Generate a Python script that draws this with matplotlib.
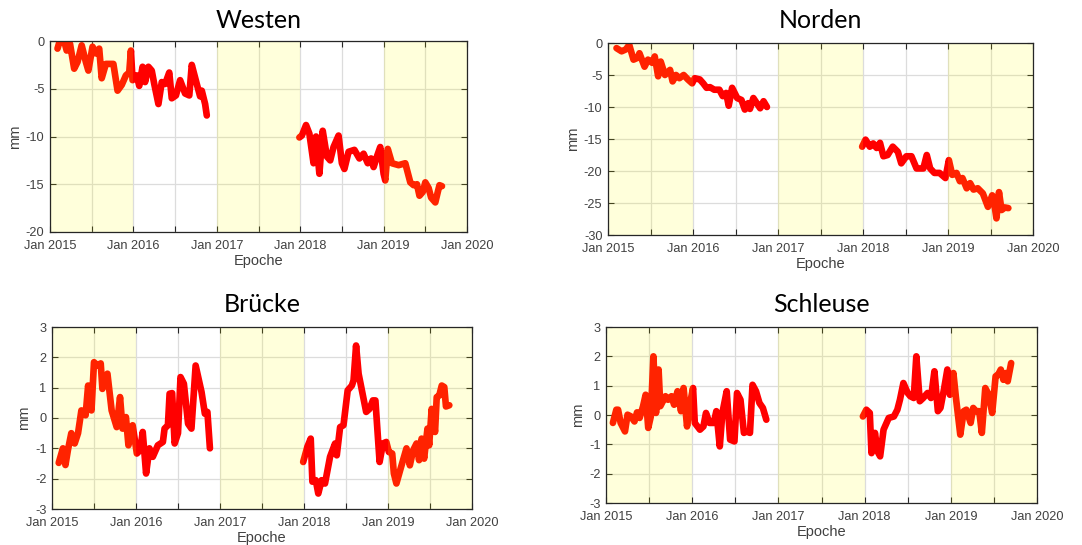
import numpy as np
import matplotlib
matplotlib.use("Agg")
import matplotlib.pyplot as plt

# ---------------- data (decimal years, mm) ----------------
titles = ["Westen", "Norden", "Brücke", "Schleuse"]

westen_t1 = [2015.09, 2015.12, 2015.17, 2015.20, 2015.24, 2015.29, 2015.33, 2015.38, 2015.43, 2015.46,
             2015.51, 2015.55, 2015.59, 2015.62, 2015.67, 2015.76, 2015.81, 2015.86, 2015.91, 2015.95,
             2015.97, 2015.99, 2016.04, 2016.07, 2016.11, 2016.14, 2016.18, 2016.22, 2016.25, 2016.30,
             2016.34, 2016.38, 2016.43, 2016.46, 2016.51, 2016.56, 2016.62, 2016.67, 2016.70, 2016.76,
             2016.80, 2016.82, 2016.86, 2016.88]
westen_v1 = [-0.8, 0.1, 0.0, -1.0, -0.3, -2.9, -2.2, -0.45, -2.2, -3.1,
             -0.6, -1.3, -0.8, -3.9, -2.4, -2.4, -5.2, -4.6, -3.6, -3.3,
             -1.0, -4.1, -3.6, -4.7, -2.7, -4.3, -2.7, -3.1, -4.5, -6.6,
             -4.3, -4.5, -3.3, -6.0, -5.7, -4.1, -5.5, -5.7, -2.5, -4.5,
             -5.8, -5.2, -6.6, -7.8]
westen_t2 = [2017.99, 2018.02, 2018.07, 2018.11, 2018.16, 2018.19, 2018.23, 2018.27, 2018.32, 2018.36,
             2018.40, 2018.46, 2018.50, 2018.53, 2018.58, 2018.65, 2018.71, 2018.76, 2018.81, 2018.85,
             2018.88, 2018.92, 2018.96, 2019.00, 2019.02, 2019.05, 2019.10, 2019.18, 2019.26, 2019.32,
             2019.36, 2019.40, 2019.43, 2019.47, 2019.50, 2019.54, 2019.57, 2019.62, 2019.65, 2019.67,
             2019.70]
westen_v2 = [-10.1, -9.9, -8.8, -9.7, -12.8, -10.0, -13.9, -9.4, -12.1, -12.5,
             -11.1, -9.9, -12.8, -13.4, -11.6, -11.4, -12.3, -11.8, -12.8, -12.3,
             -13.2, -12.1, -11.1, -13.9, -14.6, -11.3, -12.8, -13.0, -12.8, -14.8,
             -15.1, -15.0, -16.2, -15.8, -14.8, -15.4, -16.4, -16.9, -15.8, -15.1,
             -15.2]

norden_t1 = [2015.10, 2015.16, 2015.21, 2015.25, 2015.30, 2015.35, 2015.37, 2015.43, 2015.47, 2015.52,
             2015.55, 2015.59, 2015.62, 2015.67, 2015.73, 2015.76, 2015.80, 2015.84, 2015.89, 2015.94,
             2015.99, 2016.02, 2016.08, 2016.12, 2016.16, 2016.20, 2016.25, 2016.31, 2016.35, 2016.39,
             2016.42, 2016.46, 2016.52, 2016.57, 2016.61, 2016.65, 2016.67, 2016.71, 2016.75, 2016.79,
             2016.83, 2016.87]
norden_v1 = [-0.8, -1.3, -1.0, -0.3, -2.6, -2.3, -1.6, -3.7, -2.6, -3.1,
             -2.1, -5.2, -2.9, -5.0, -4.2, -6.0, -5.0, -5.5, -5.0, -5.7,
             -6.3, -5.5, -5.7, -6.3, -7.0, -6.9, -7.3, -7.3, -8.3, -7.8,
             -9.8, -7.0, -8.6, -8.9, -10.4, -9.4, -10.3, -8.6, -9.4, -10.2,
             -9.1, -10.0]
norden_t2 = [2017.99, 2018.03, 2018.08, 2018.12, 2018.16, 2018.20, 2018.24, 2018.29, 2018.35, 2018.41,
             2018.45, 2018.51, 2018.57, 2018.63, 2018.71, 2018.75, 2018.79, 2018.84, 2018.90, 2018.97,
             2019.01, 2019.05, 2019.10, 2019.14, 2019.17, 2019.22, 2019.26, 2019.30, 2019.35, 2019.41,
             2019.47, 2019.52, 2019.55, 2019.57, 2019.60, 2019.63, 2019.67, 2019.71]
norden_v2 = [-16.2, -15.1, -16.2, -15.7, -16.4, -15.6, -17.7, -17.5, -16.2, -17.0,
             -18.8, -17.7, -17.7, -19.6, -19.6, -17.5, -19.6, -20.3, -20.3, -21.1,
             -18.3, -20.6, -20.3, -21.6, -21.1, -22.7, -21.9, -22.9, -22.7, -23.5,
             -25.6, -23.8, -25.6, -27.4, -23.3, -26.1, -25.7, -25.8]

bruecke_t1 = [2015.08, 2015.13, 2015.16, 2015.19, 2015.23, 2015.27, 2015.31, 2015.35, 2015.40, 2015.43,
              2015.47, 2015.50, 2015.54, 2015.58, 2015.60, 2015.66, 2015.71, 2015.77, 2015.81, 2015.84,
              2015.88, 2015.91, 2015.96, 2016.01, 2016.05, 2016.08, 2016.12, 2016.16, 2016.20, 2016.26,
              2016.32, 2016.34, 2016.38, 2016.40, 2016.43, 2016.46, 2016.50, 2016.53, 2016.57, 2016.62,
              2016.66, 2016.71, 2016.78, 2016.82, 2016.85, 2016.88]
bruecke_v1 = [-1.48, -1.0, -1.55, -1.05, -0.5, -0.84, -0.5, 0.25, 0.09, 1.07,
              0.25, 1.84, 1.73, 1.8, 0.96, 1.46, 0.25, -0.3, 0.69, -0.35,
              0.03, -0.9, -0.24, -1.17, -1.06, -0.46, -1.83, -1.0, -1.28, -0.9,
              -0.79, -0.35, -0.24, 0.8, 0.82, -0.84, -0.5, 1.35, 1.13, -0.19,
              -0.35, 1.73, 0.86, 0.14, 0.2, -1.0]
bruecke_t2 = [2017.99, 2018.04, 2018.08, 2018.10, 2018.14, 2018.17, 2018.21, 2018.25, 2018.31, 2018.37,
              2018.39, 2018.43, 2018.47, 2018.52, 2018.57, 2018.59, 2018.62, 2018.65, 2018.74, 2018.78,
              2018.82, 2018.85, 2018.90, 2018.94, 2018.98, 2019.01, 2019.05, 2019.07, 2019.10, 2019.15,
              2019.22, 2019.26, 2019.30, 2019.34, 2019.37, 2019.40, 2019.43, 2019.47, 2019.49, 2019.52,
              2019.56, 2019.58, 2019.61, 2019.64, 2019.67, 2019.69, 2019.73]
bruecke_v2 = [-1.45, -0.95, -0.68, -2.1, -2.05, -2.49, -2.05, -2.16, -1.28, -0.84,
              -1.23, -0.3, -0.24, 0.91, 1.07, 1.24, 2.39, 1.46, 0.2, 0.3,
              0.58, 0.58, -1.45, -0.84, -0.79, -1.12, -1.17, -1.83, -2.16, -1.67,
              -1.0, -1.56, -1.06, -0.84, -1.39, -0.68, -1.34, -0.35, -0.9, 0.3,
              -0.46, 0.69, 0.74, 1.07, 1.02, 0.38, 0.42]

schleuse_t1 = [2015.08, 2015.12, 2015.14, 2015.17, 2015.22, 2015.25, 2015.29, 2015.33, 2015.36, 2015.39,
               2015.43, 2015.46, 2015.49, 2015.52, 2015.55, 2015.58, 2015.61, 2015.63, 2015.69, 2015.72,
               2015.76, 2015.79, 2015.83, 2015.87, 2015.90, 2015.94, 2015.98, 2016.01, 2016.03, 2016.09,
               2016.13, 2016.16, 2016.20, 2016.25, 2016.28, 2016.32, 2016.35, 2016.40, 2016.44, 2016.49,
               2016.52, 2016.56, 2016.60, 2016.63, 2016.67, 2016.70, 2016.74, 2016.78, 2016.82, 2016.86]
schleuse_v1 = [-0.27, 0.18, 0.18, -0.27, -0.56, 0.01, -0.05, -0.22, 0.09, -0.1,
               0.3, 0.69, -0.44, -0.05, 2.0, 0.07, 1.55, 0.3, 0.64, 0.52,
               0.64, 0.35, 0.81, 0.13, 0.92, -0.39, 0.47, 0.92, -0.27, -0.5,
               -0.39, 0.07, -0.27, -0.27, 0.13, -1.07, 0.07, 0.81, -0.84, -0.9,
               0.75, 0.52, -0.61, -0.56, -0.61, 1.03, 0.81, 0.41, 0.24, -0.16]
schleuse_t2 = [2017.98, 2018.02, 2018.06, 2018.08, 2018.12, 2018.15, 2018.18, 2018.22, 2018.28, 2018.34,
               2018.38, 2018.41, 2018.45, 2018.50, 2018.53, 2018.57, 2018.60, 2018.64, 2018.68, 2018.73,
               2018.77, 2018.81, 2018.85, 2018.88, 2018.92, 2018.96, 2018.99, 2019.03, 2019.06, 2019.11,
               2019.15, 2019.18, 2019.23, 2019.26, 2019.29, 2019.33, 2019.36, 2019.40, 2019.44, 2019.48,
               2019.52, 2019.55, 2019.58, 2019.61, 2019.64, 2019.66, 2019.70]
schleuse_v2 = [-0.05, 0.18, 0.07, -1.3, -0.61, -1.24, -1.41, -0.5, -0.1, -0.05,
               0.18, 0.52, 1.09, 0.75, 0.64, 0.58, 2.0, 0.47, 0.58, 0.75,
               0.58, 1.49, 0.13, 0.24, 0.86, 1.55, 0.69, 1.43, 0.58, -0.67,
               0.13, 0.18, -0.27, 0.24, 0.13, 0.13, -0.61, 0.92, 0.69, 0.07,
               1.32, 1.38, 1.55, 1.2, 1.43, 1.15, 1.77]

series = [
    [(westen_t1, westen_v1), (westen_t2, westen_v2)],
    [(norden_t1, norden_v1), (norden_t2, norden_v2)],
    [(bruecke_t1, bruecke_v1), (bruecke_t2, bruecke_v2)],
    [(schleuse_t1, schleuse_v1), (schleuse_t2, schleuse_v2)],
]
ylims = [(-20, 0), (-30, 0), (-3, 3), (-3, 3)]
yticks = [[-20, -15, -10, -5, 0], [-30, -25, -20, -15, -10, -5, 0],
          [-3, -2, -1, 0, 1, 2, 3], [-3, -2, -1, 0, 1, 2, 3]]
shaded_years = [2015, 2017, 2019]
xtick_pos = [2015, 2015.5, 2016, 2016.5, 2017, 2017.5, 2018, 2018.5, 2019, 2019.5, 2020]
xtick_lab = ["Jan 2015", "", "Jan 2016", "", "Jan 2017", "", "Jan 2018", "", "Jan 2019", "", "Jan 2020"]

# ---------------- layout ----------------
W, H = 1082, 545
fig = plt.figure(figsize=(W / 100, H / 100), dpi=100)

# (left, top, right, bottom) in pixels
boxes = [(50, 41, 467, 232), (608, 43, 1033, 235), (52, 327, 472, 509), (606, 327, 1037, 503)]
title_y = [20, 20, 305, 305]

txt_col = "#404040"
tick_font = "Liberation Sans"

for i, (l, t, r, b) in enumerate(boxes):
    ax = fig.add_axes([l / W, 1 - b / H, (r - l) / W, (b - t) / H])
    ax.set_axisbelow(True)
    for (tt, vv) in series[i]:
        ax.plot(tt, vv, color="#ff0000", lw=4.8, solid_joinstyle="round",
                solid_capstyle="round", zorder=2)
    for y0 in shaded_years:
        ax.axvspan(y0, y0 + 1, color=(1, 1, 0), alpha=0.14, lw=0, zorder=3)
    ax.set_xlim(2015, 2020)
    ax.set_ylim(*ylims[i])
    ax.set_xticks(xtick_pos)
    ax.set_xticklabels(xtick_lab)
    ax.set_yticks(yticks[i])
    ax.set_yticklabels([str(v) for v in yticks[i]])
    ax.grid(True, color="#dcdcdc", lw=0.9)
    ax.tick_params(direction="in", top=True, right=True, length=4, width=0.8,
                   colors="#262626", labelcolor=txt_col, labelsize=9.2)
    ax.tick_params(axis="x", pad=6)
    ax.tick_params(axis="y", pad=4)
    for lab in ax.get_xticklabels() + ax.get_yticklabels():
        lab.set_fontfamily(tick_font)
    for sp in ax.spines.values():
        sp.set_color("#262626")
        sp.set_linewidth(0.9)
        sp.set_zorder(4)
    ax.set_xlabel("Epoche", fontfamily=tick_font, fontsize=10.5, color=txt_col, labelpad=1)
    ax.set_ylabel("mm", fontfamily=tick_font, fontsize=10.5, color=txt_col, labelpad=3)
    fig.text((l + r) / 2 / W, 1 - title_y[i] / H, titles[i], ha="center", va="center",
             fontsize=18, fontfamily="Lato", color="black")

fig.savefig("out.png", dpi=100)
